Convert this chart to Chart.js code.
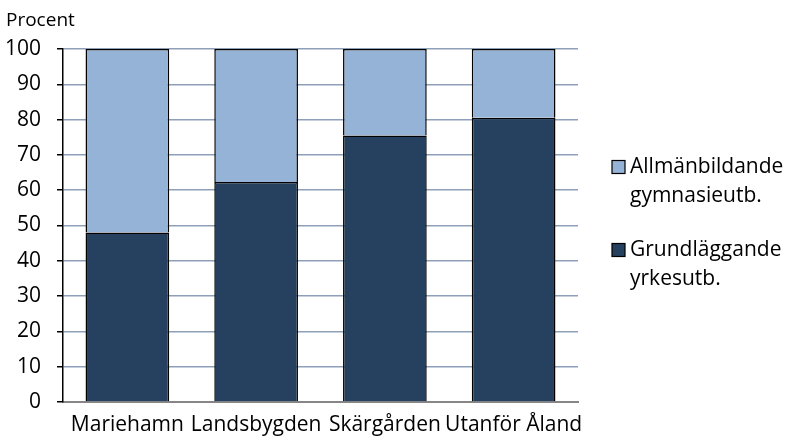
<!DOCTYPE html>
<html>
<head>
<meta charset="utf-8">
<script src="https://cdn.jsdelivr.net/npm/chart.js@4.4.1/dist/chart.umd.min.js"></script>
<style>
html,body{margin:0;padding:0;background:#fff;}
#wrap{width:785px;height:444px;position:relative;}
</style>
</head>
<body>
<div id="wrap"><canvas id="c" width="785" height="444"></canvas></div>
<script>
const categories = ['Mariehamn', 'Landsbygden', 'Skärgården', 'Utanför Åland'];
const grundlaggande = [48, 62.3, 75.5, 80.5];
const allmanbildande = [52, 37.7, 24.5, 19.5];
const seriesNames = [['Allmänbildande', 'gymnasieutb.'], ['Grundläggande', 'yrkesutb.']];
const axisLabel = 'Procent';
const yMin = 0, yMax = 100, yStep = 10;

const FONT = '"Open Sans", sans-serif';
const darkColor = '#26405F';
const lightColor = '#95B3D7';

const extras = {
  id: 'extras',
  afterDraw(chart) {
    const ctx = chart.ctx;
    ctx.save();
    ctx.fillStyle = '#000';
    ctx.font = '19px ' + FONT;
    ctx.textAlign = 'left';
    ctx.textBaseline = 'middle';
    ctx.fillText(axisLabel, 6, 21);
    // legend
    const items = [
      {color: lightColor, lines: seriesNames[0], y: 167},
      {color: darkColor, lines: seriesNames[1], y: 250}
    ];
    ctx.font = '21px ' + FONT;
    items.forEach(it => {
      ctx.fillStyle = it.color;
      ctx.fillRect(612, it.y - 6.5, 13, 13);
      ctx.strokeStyle = '#000';
      ctx.lineWidth = 1.2;
      ctx.strokeRect(612, it.y - 6.5, 13, 13);
      ctx.fillStyle = '#000';
      it.lines.forEach((t, i) => ctx.fillText(t, 630, it.y + i * 29));
    });
    ctx.restore();
  }
};

new Chart(document.getElementById('c'), {
  type: 'bar',
  data: {
    labels: categories,
    datasets: [
      {label: seriesNames[1].join(' '), data: grundlaggande, backgroundColor: darkColor,
       borderColor: '#000', borderWidth: 1.5, borderSkipped: 'start'},
      {label: seriesNames[0].join(' '), data: allmanbildande, backgroundColor: lightColor,
       borderColor: '#000', borderWidth: 1.5, borderSkipped: 'start'}
    ]
  },
  options: {
    responsive: false,
    animation: false,
    devicePixelRatio: 1,
    layout: {padding: {top: 49, right: 207, left: 0, bottom: 0}},
    datasets: {bar: {categoryPercentage: 1, barPercentage: 0.65}},
    plugins: {legend: {display: false}, tooltip: {enabled: false}, title: {display: false}},
    scales: {
      x: {
        stacked: true,
        grid: {display: false},
        border: {display: true, color: '#868686', width: 2},
        ticks: {color: '#000', font: {family: FONT, size: 21}, padding: 2, maxRotation: 0, autoSkip: false},
        afterFit(s) { s.height = 42; }
      },
      y: {
        stacked: true,
        min: yMin, max: yMax,
        grid: {color: '#8EA0B8', lineWidth: 1.5, tickColor: '#000', tickLength: 6, drawTicks: true},
        border: {display: true, color: '#000', width: 1.5},
        ticks: {stepSize: yStep, color: '#000', font: {family: FONT, size: 21}, padding: 16},
        afterFit(s) { s.width = 63; }
      }
    }
  },
  plugins: [extras]
});
</script>
</body>
</html>
